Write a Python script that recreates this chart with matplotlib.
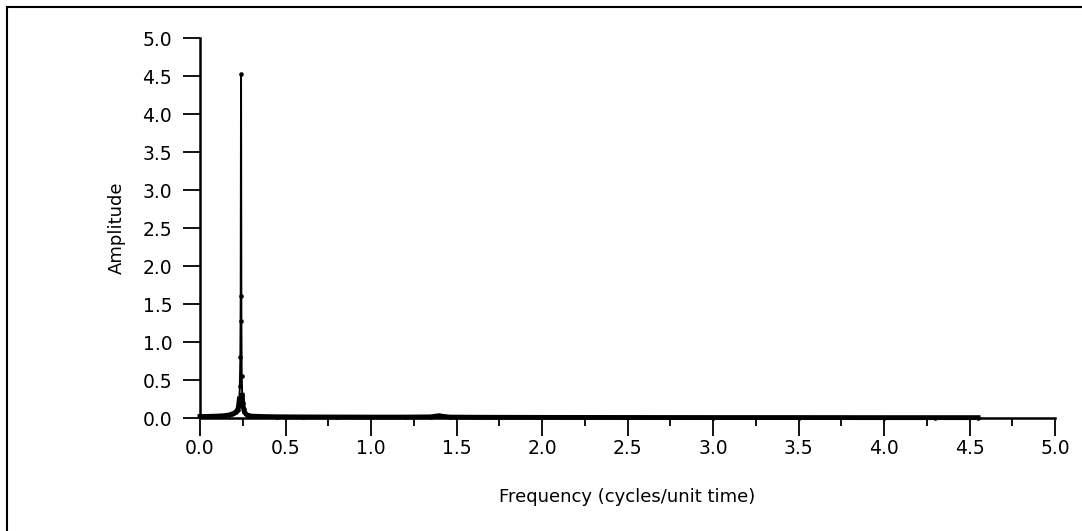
import matplotlib
matplotlib.use("Agg")
import matplotlib.pyplot as plt
import numpy as np
from matplotlib.ticker import MultipleLocator, FormatStrFormatter

# amplitude spectrum, frequency in cycles per unit time
freq = [0.00, 0.03, 0.06, 0.10, 0.14, 0.17, 0.19, 0.20, 0.21, 0.22, 0.225,
        0.23, 0.233, 0.236, 0.238, 0.240, 0.242, 0.244, 0.247, 0.250, 0.255,
        0.26, 0.27, 0.28, 0.30, 0.35, 0.45, 0.60, 0.80, 1.00, 1.20, 1.35,
        1.38, 1.40, 1.42, 1.46, 1.60, 2.00, 2.50, 3.00, 3.50, 4.00, 4.30, 4.55]
amp = [0.020, 0.020, 0.022, 0.025, 0.030, 0.040, 0.055, 0.065, 0.080, 0.110, 0.150,
       0.250, 0.420, 0.800, 1.600, 4.520, 1.280, 0.550, 0.300, 0.200, 0.120,
       0.080, 0.050, 0.035, 0.025, 0.020, 0.016, 0.014, 0.013, 0.012, 0.012, 0.015,
       0.025, 0.030, 0.022, 0.012, 0.010, 0.008, 0.007, 0.006, 0.006, 0.005, 0.005, 0.005]

xticks = [0.0, 0.5, 1.0, 1.5, 2.0, 2.5, 3.0, 3.5, 4.0, 4.5, 5.0]
yticks = [0.0, 0.5, 1.0, 1.5, 2.0, 2.5, 3.0, 3.5, 4.0, 4.5, 5.0]

plt.rcParams['font.family'] = ['DejaVu Sans']

fig = plt.figure(figsize=(10.82, 5.31), dpi=100)
ax = fig.add_axes([200 / 1082, 1 - 418 / 531, 855 / 1082, 380 / 531])

f = np.array(freq)
a = np.array(amp)
# dense low-level points render as a heavy trace; the spike itself stays thin
low = np.where(a <= 0.3, a, np.nan)
ax.plot(f, a, color='black', linewidth=1.4, marker='o', markersize=2.3,
        clip_on=False, zorder=3)
ax.plot(f, low, color='black', linewidth=3.5, solid_joinstyle='round',
        clip_on=False, zorder=3)

ax.set_xlim(0, 5)
ax.set_ylim(0, 5)
ax.set_xticks(xticks)
ax.set_yticks(yticks)
ax.xaxis.set_minor_locator(MultipleLocator(0.25))
ax.xaxis.set_major_formatter(FormatStrFormatter('%.1f'))
ax.yaxis.set_major_formatter(FormatStrFormatter('%.1f'))

for side in ['top', 'right']:
    ax.spines[side].set_visible(False)
ax.spines['left'].set_linewidth(1.8)
ax.spines['bottom'].set_linewidth(1.8)

ax.tick_params(axis='x', which='major', direction='out', length=13, width=1.3,
               pad=2, labelsize=13.5)
ax.tick_params(axis='x', which='minor', direction='out', length=6, width=1.3)
ax.tick_params(axis='y', which='major', direction='out', length=12, width=1.3,
               pad=8, labelsize=13.5)

ax.set_xlabel('Frequency (cycles/unit time)', fontsize=13, labelpad=22)
ax.set_ylabel('Amplitude', fontsize=13, labelpad=12)

# page border: top and left edges
fig.add_artist(plt.Line2D([7 / 1082, 7 / 1082], [0, 1 - 7 / 531],
                          transform=fig.transFigure, color='black', linewidth=1.5))
fig.add_artist(plt.Line2D([7 / 1082, 1], [1 - 7 / 531, 1 - 7 / 531],
                          transform=fig.transFigure, color='black', linewidth=1.5))

fig.savefig('out.png', dpi=100, facecolor='white')
